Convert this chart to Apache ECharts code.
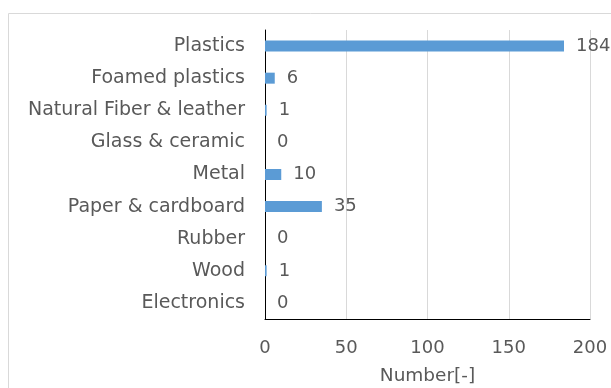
<!DOCTYPE html>
<html>
<head>
<meta charset="utf-8">
<script src="https://cdn.jsdelivr.net/npm/echarts@6/dist/echarts.min.js"></script>
<style>
  html, body { margin: 0; padding: 0; background: #fff; }
  #chart { width: 611px; height: 388px; }
</style>
</head>
<body>
<div id="chart"></div>
<script>
// categories from top to bottom
var categories = ["Plastics", "Foamed plastics", "Natural Fiber & leather", "Glass & ceramic",
  "Metal", "Paper & cardboard", "Rubber", "Wood", "Electronics"];
var counts = [184, 6, 1, 0, 10, 35, 0, 1, 0];
var xTicks = [0, 200, 50];

var textColor = "#595959";
var font = "DejaVu Sans";

var myChart = echarts.init(document.getElementById("chart"));
myChart.setOption({
  animation: false,
  textStyle: { fontFamily: font },
  graphic: [
    {
      type: "rect",
      shape: { x: 8.5, y: 13.5, width: 700, height: 500 },
      style: { fill: "none", stroke: "#d9d9d9", lineWidth: 1 },
      z: -1
    }
  ],
  grid: { left: 265, right: 21, top: 30, bottom: 69, containLabel: false, outerBoundsMode: "none" },
  xAxis: {
    type: "value",
    min: xTicks[0],
    max: xTicks[1],
    interval: xTicks[2],
    name: "Number[-]",
    nameLocation: "middle",
    nameGap: 48,
    nameTextStyle: { color: textColor, fontSize: 18.5, fontFamily: font },
    axisLine: { show: true, lineStyle: { color: "#000", width: 1 } },
    axisTick: { show: false },
    axisLabel: { color: textColor, fontSize: 18, margin: 20, fontFamily: font },
    splitLine: { show: true, lineStyle: { color: "#d9d9d9", width: 1 } }
  },
  yAxis: {
    type: "category",
    inverse: true,
    data: categories,
    axisLine: { show: true, lineStyle: { color: "#000", width: 1 } },
    axisTick: { show: false },
    axisLabel: { color: textColor, fontSize: 19, margin: 20, fontFamily: font },
    splitLine: { show: false }
  },
  series: [
    {
      type: "bar",
      data: counts,
      barWidth: 11,
      itemStyle: { color: "#5b9bd5" },
      label: {
        show: true,
        position: "right",
        distance: 12,
        color: textColor,
        fontSize: 18,
        fontFamily: font
      }
    }
  ]
});
</script>
</body>
</html>
